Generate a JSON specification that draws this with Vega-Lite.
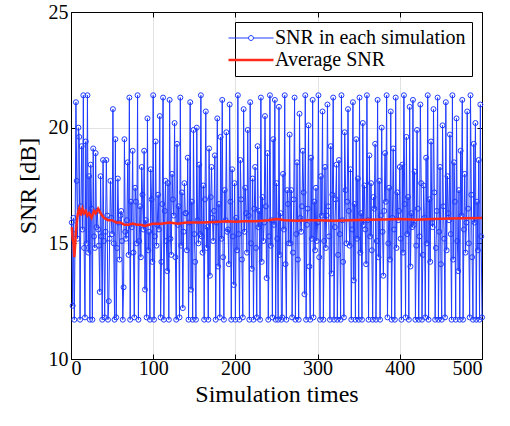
{
  "$schema": "https://vega.github.io/schema/vega-lite/v6.json",
  "autosize": {"type": "none"},
  "padding": {"left": 71, "top": 12, "right": 28, "bottom": 67},
  "width": 411,
  "height": 347,
  "background": "white",
  "config": {
    "view": {"stroke": "black", "strokeWidth": 1},
    "font": "Times New Roman"
  },
  "resolve": {"axis": {"x": "independent", "y": "independent"}},
  "datasets": {
    "snr": [
      {"i":1,"v":15.9},{"i":2,"v":12.3},{"i":3,"v":16.1},{"i":4,"v":11.7},{"i":5,"v":15.4},{"i":6,"v":21.1},{"i":7,"v":17.7},{"i":8,"v":15.2},{"i":9,"v":20.0},{"i":10,"v":19.6},{"i":11,"v":11.7},{"i":12,"v":16.6},{"i":13,"v":19.2},{"i":14,"v":15.6},{"i":15,"v":21.4},{"i":16,"v":14.8},{"i":17,"v":11.8},{"i":18,"v":19.4},{"i":19,"v":15.0},{"i":20,"v":21.4},{"i":21,"v":14.6},{"i":22,"v":17.9},{"i":23,"v":11.7},{"i":24,"v":18.4},{"i":25,"v":16.5},
      {"i":26,"v":11.7},{"i":27,"v":19.1},{"i":28,"v":15.3},{"i":29,"v":14.8},{"i":30,"v":18.9},{"i":31,"v":15.7},{"i":32,"v":16.4},{"i":33,"v":15.6},{"i":34,"v":14.9},{"i":35,"v":12.9},{"i":36,"v":17.9},{"i":37,"v":15.3},{"i":38,"v":11.7},{"i":39,"v":18.6},{"i":40,"v":15.1},{"i":41,"v":11.8},{"i":42,"v":15.5},{"i":43,"v":18.6},{"i":44,"v":16.2},{"i":45,"v":11.7},{"i":46,"v":12.5},{"i":47,"v":15.2},{"i":48,"v":17.7},{"i":49,"v":16.1},{"i":50,"v":15.4},
      {"i":51,"v":20.8},{"i":52,"v":15.0},{"i":53,"v":11.7},{"i":54,"v":19.5},{"i":55,"v":11.8},{"i":56,"v":14.8},{"i":57,"v":17.8},{"i":58,"v":15.9},{"i":59,"v":14.3},{"i":60,"v":16.2},{"i":61,"v":16.4},{"i":62,"v":15.1},{"i":63,"v":11.7},{"i":64,"v":13.1},{"i":65,"v":19.5},{"i":66,"v":15.5},{"i":67,"v":15.2},{"i":68,"v":16.0},{"i":69,"v":18.5},{"i":70,"v":14.5},{"i":71,"v":21.3},{"i":72,"v":11.7},{"i":73,"v":16.8},{"i":74,"v":15.7},{"i":75,"v":19.0},
      {"i":76,"v":14.6},{"i":77,"v":11.8},{"i":78,"v":17.4},{"i":79,"v":16.8},{"i":80,"v":15.0},{"i":81,"v":21.4},{"i":82,"v":11.7},{"i":83,"v":15.1},{"i":84,"v":16.6},{"i":85,"v":14.4},{"i":86,"v":18.3},{"i":87,"v":17.1},{"i":88,"v":15.6},{"i":89,"v":19.0},{"i":90,"v":13.0},{"i":91,"v":16.0},{"i":92,"v":11.8},{"i":93,"v":20.4},{"i":94,"v":14.7},{"i":95,"v":15.5},{"i":96,"v":11.7},{"i":97,"v":18.2},{"i":98,"v":16.9},{"i":99,"v":14.2},{"i":100,"v":21.4},
      {"i":101,"v":11.7},{"i":102,"v":15.3},{"i":103,"v":19.4},{"i":104,"v":14.9},{"i":105,"v":15.8},{"i":106,"v":17.1},{"i":107,"v":15.6},{"i":108,"v":20.5},{"i":109,"v":11.8},{"i":110,"v":14.2},{"i":111,"v":16.7},{"i":112,"v":21.3},{"i":113,"v":11.7},{"i":114,"v":16.4},{"i":115,"v":17.7},{"i":116,"v":15.1},{"i":117,"v":13.8},{"i":118,"v":17.6},{"i":119,"v":11.7},{"i":120,"v":21.2},{"i":121,"v":15.2},{"i":122,"v":14.5},{"i":123,"v":18.0},{"i":124,"v":16.9},{"i":125,"v":16.2},
      {"i":126,"v":20.2},{"i":127,"v":14.4},{"i":128,"v":11.7},{"i":129,"v":19.3},{"i":130,"v":15.8},{"i":131,"v":16.6},{"i":132,"v":11.8},{"i":133,"v":21.3},{"i":134,"v":14.9},{"i":135,"v":17.2},{"i":136,"v":12.2},{"i":137,"v":15.5},{"i":138,"v":17.6},{"i":139,"v":16.3},{"i":140,"v":16.3},{"i":141,"v":14.7},{"i":142,"v":18.7},{"i":143,"v":11.7},{"i":144,"v":15.9},{"i":145,"v":21.1},{"i":146,"v":13.0},{"i":147,"v":16.8},{"i":148,"v":11.7},{"i":149,"v":19.9},{"i":150,"v":15.4},
      {"i":151,"v":14.2},{"i":152,"v":11.7},{"i":153,"v":20.0},{"i":154,"v":16.0},{"i":155,"v":15.0},{"i":156,"v":18.4},{"i":157,"v":15.4},{"i":158,"v":21.4},{"i":159,"v":15.3},{"i":160,"v":14.6},{"i":161,"v":17.5},{"i":162,"v":11.7},{"i":163,"v":16.9},{"i":164,"v":20.7},{"i":165,"v":14.8},{"i":166,"v":15.7},{"i":167,"v":11.7},{"i":168,"v":19.1},{"i":169,"v":13.6},{"i":170,"v":17.0},{"i":171,"v":18.3},{"i":172,"v":16.1},{"i":173,"v":15.1},{"i":174,"v":16.4},{"i":175,"v":18.8},
      {"i":176,"v":11.7},{"i":177,"v":15.9},{"i":178,"v":20.4},{"i":179,"v":14.0},{"i":180,"v":16.7},{"i":181,"v":11.8},{"i":182,"v":19.6},{"i":183,"v":15.2},{"i":184,"v":21.2},{"i":185,"v":14.4},{"i":186,"v":11.7},{"i":187,"v":17.3},{"i":188,"v":16.0},{"i":189,"v":19.8},{"i":190,"v":15.5},{"i":191,"v":15.6},{"i":192,"v":14.1},{"i":193,"v":21.0},{"i":194,"v":16.8},{"i":195,"v":11.7},{"i":196,"v":18.2},{"i":197,"v":15.3},{"i":198,"v":13.2},{"i":199,"v":17.6},{"i":200,"v":11.7},
      {"i":201,"v":16.1},{"i":202,"v":14.7},{"i":203,"v":21.4},{"i":204,"v":15.4},{"i":205,"v":11.7},{"i":206,"v":18.6},{"i":207,"v":16.9},{"i":208,"v":14.3},{"i":209,"v":11.8},{"i":210,"v":20.8},{"i":211,"v":15.5},{"i":212,"v":17.4},{"i":213,"v":16.3},{"i":214,"v":14.6},{"i":215,"v":19.9},{"i":216,"v":16.2},{"i":217,"v":11.7},{"i":218,"v":21.1},{"i":219,"v":15.0},{"i":220,"v":13.9},{"i":221,"v":17.8},{"i":222,"v":11.7},{"i":223,"v":16.5},{"i":224,"v":18.3},{"i":225,"v":14.8},
      {"i":226,"v":11.8},{"i":227,"v":19.2},{"i":228,"v":15.7},{"i":229,"v":16.4},{"i":230,"v":11.7},{"i":231,"v":21.3},{"i":232,"v":14.2},{"i":233,"v":17.0},{"i":234,"v":15.1},{"i":235,"v":15.9},{"i":236,"v":20.5},{"i":237,"v":16.6},{"i":238,"v":13.5},{"i":239,"v":18.9},{"i":240,"v":11.7},{"i":241,"v":15.3},{"i":242,"v":21.4},{"i":243,"v":14.9},{"i":244,"v":16.0},{"i":245,"v":11.8},{"i":246,"v":19.5},{"i":247,"v":15.8},{"i":248,"v":21.2},{"i":249,"v":11.7},{"i":250,"v":17.6},
      {"i":251,"v":15.2},{"i":252,"v":11.7},{"i":253,"v":20.9},{"i":254,"v":14.5},{"i":255,"v":16.3},{"i":256,"v":11.7},{"i":257,"v":11.8},{"i":258,"v":18.0},{"i":259,"v":15.6},{"i":260,"v":21.4},{"i":261,"v":14.1},{"i":262,"v":11.7},{"i":263,"v":17.3},{"i":264,"v":16.7},{"i":265,"v":15.0},{"i":266,"v":19.7},{"i":267,"v":15.0},{"i":268,"v":17.3},{"i":269,"v":11.8},{"i":270,"v":14.6},{"i":271,"v":16.9},{"i":272,"v":21.3},{"i":273,"v":11.7},{"i":274,"v":15.4},{"i":275,"v":18.5},
      {"i":276,"v":14.3},{"i":277,"v":11.7},{"i":278,"v":20.6},{"i":279,"v":16.1},{"i":280,"v":15.5},{"i":281,"v":16.6},{"i":282,"v":19.0},{"i":283,"v":17.2},{"i":284,"v":12.8},{"i":285,"v":21.4},{"i":286,"v":11.7},{"i":287,"v":15.8},{"i":288,"v":16.5},{"i":289,"v":20.1},{"i":290,"v":14.0},{"i":291,"v":11.7},{"i":292,"v":18.7},{"i":293,"v":15.2},{"i":294,"v":21.2},{"i":295,"v":11.8},{"i":296,"v":16.8},{"i":297,"v":14.7},{"i":298,"v":17.4},{"i":299,"v":15.1},{"i":300,"v":15.9},
      {"i":301,"v":21.4},{"i":302,"v":14.4},{"i":303,"v":11.7},{"i":304,"v":17.9},{"i":305,"v":16.2},{"i":306,"v":20.7},{"i":307,"v":11.7},{"i":308,"v":15.1},{"i":309,"v":18.3},{"i":310,"v":14.8},{"i":311,"v":16.2},{"i":312,"v":21.0},{"i":313,"v":16.6},{"i":314,"v":15.3},{"i":315,"v":11.7},{"i":316,"v":19.2},{"i":317,"v":13.7},{"i":318,"v":17.1},{"i":319,"v":21.3},{"i":320,"v":11.7},{"i":321,"v":15.7},{"i":322,"v":16.9},{"i":323,"v":18.4},{"i":324,"v":11.7},{"i":325,"v":14.5},
      {"i":326,"v":18.6},{"i":327,"v":15.4},{"i":328,"v":11.7},{"i":329,"v":21.4},{"i":330,"v":16.0},{"i":331,"v":14.2},{"i":332,"v":11.8},{"i":333,"v":19.8},{"i":334,"v":17.3},{"i":335,"v":15.0},{"i":336,"v":16.8},{"i":337,"v":20.8},{"i":338,"v":16.4},{"i":339,"v":14.9},{"i":340,"v":18.2},{"i":341,"v":11.7},{"i":342,"v":15.6},{"i":343,"v":21.1},{"i":344,"v":13.4},{"i":345,"v":16.7},{"i":346,"v":11.7},{"i":347,"v":19.5},{"i":348,"v":15.2},{"i":349,"v":17.8},{"i":350,"v":11.7},
      {"i":351,"v":21.3},{"i":352,"v":14.6},{"i":353,"v":16.3},{"i":354,"v":11.7},{"i":355,"v":20.2},{"i":356,"v":15.8},{"i":357,"v":17.5},{"i":358,"v":15.6},{"i":359,"v":14.1},{"i":360,"v":21.4},{"i":361,"v":16.0},{"i":362,"v":11.7},{"i":363,"v":18.8},{"i":364,"v":15.3},{"i":365,"v":17.6},{"i":366,"v":14.7},{"i":367,"v":11.7},{"i":368,"v":17.0},{"i":369,"v":16.5},{"i":370,"v":19.3},{"i":371,"v":11.7},{"i":372,"v":15.1},{"i":373,"v":21.2},{"i":374,"v":14.4},{"i":375,"v":17.7},
      {"i":376,"v":11.7},{"i":377,"v":16.2},{"i":378,"v":20.0},{"i":379,"v":15.5},{"i":380,"v":13.6},{"i":381,"v":16.4},{"i":382,"v":18.9},{"i":383,"v":16.8},{"i":384,"v":21.4},{"i":385,"v":11.8},{"i":386,"v":15.0},{"i":387,"v":17.4},{"i":388,"v":14.3},{"i":389,"v":20.7},{"i":390,"v":11.7},{"i":391,"v":16.1},{"i":392,"v":19.1},{"i":393,"v":15.6},{"i":394,"v":11.7},{"i":395,"v":21.3},{"i":396,"v":14.8},{"i":397,"v":17.2},{"i":398,"v":16.0},{"i":399,"v":16.4},{"i":400,"v":18.3},
      {"i":401,"v":15.2},{"i":402,"v":11.7},{"i":403,"v":18.4},{"i":404,"v":14.6},{"i":405,"v":21.4},{"i":406,"v":16.7},{"i":407,"v":11.8},{"i":408,"v":19.6},{"i":409,"v":15.4},{"i":410,"v":17.0},{"i":411,"v":11.7},{"i":412,"v":20.9},{"i":413,"v":14.0},{"i":414,"v":16.3},{"i":415,"v":15.7},{"i":416,"v":21.2},{"i":417,"v":15.8},{"i":418,"v":18.1},{"i":419,"v":11.7},{"i":420,"v":14.9},{"i":421,"v":19.9},{"i":422,"v":16.5},{"i":423,"v":11.7},{"i":424,"v":15.3},{"i":425,"v":21.0},
      {"i":426,"v":17.6},{"i":427,"v":11.7},{"i":428,"v":14.5},{"i":429,"v":17.5},{"i":430,"v":16.1},{"i":431,"v":11.8},{"i":432,"v":18.7},{"i":433,"v":15.0},{"i":434,"v":21.4},{"i":435,"v":11.7},{"i":436,"v":16.9},{"i":437,"v":14.2},{"i":438,"v":19.4},{"i":439,"v":15.9},{"i":440,"v":15.7},{"i":441,"v":20.8},{"i":442,"v":17.2},{"i":443,"v":11.7},{"i":444,"v":14.8},{"i":445,"v":16.4},{"i":446,"v":21.3},{"i":447,"v":11.7},{"i":448,"v":15.5},{"i":449,"v":18.3},{"i":450,"v":14.1},
      {"i":451,"v":11.7},{"i":452,"v":20.1},{"i":453,"v":16.6},{"i":454,"v":15.2},{"i":455,"v":11.8},{"i":456,"v":21.1},{"i":457,"v":14.7},{"i":458,"v":17.9},{"i":459,"v":16.3},{"i":460,"v":16.0},{"i":461,"v":19.7},{"i":462,"v":15.4},{"i":463,"v":11.7},{"i":464,"v":21.4},{"i":465,"v":14.3},{"i":466,"v":18.5},{"i":467,"v":16.8},{"i":468,"v":11.7},{"i":469,"v":20.4},{"i":470,"v":15.1},{"i":471,"v":13.8},{"i":472,"v":17.3},{"i":473,"v":11.7},{"i":474,"v":19.0},{"i":475,"v":16.2},
      {"i":476,"v":21.2},{"i":477,"v":11.7},{"i":478,"v":15.6},{"i":479,"v":18.0},{"i":480,"v":14.6},{"i":481,"v":15.9},{"i":482,"v":20.7},{"i":483,"v":16.5},{"i":484,"v":15.0},{"i":485,"v":11.8},{"i":486,"v":21.4},{"i":487,"v":17.1},{"i":488,"v":14.4},{"i":489,"v":11.7},{"i":490,"v":19.3},{"i":491,"v":15.9},{"i":492,"v":20.2},{"i":493,"v":11.7},{"i":494,"v":16.8},{"i":495,"v":14.7},{"i":496,"v":18.6},{"i":497,"v":11.7},{"i":498,"v":21.0},{"i":499,"v":15.3},{"i":500,"v":11.8}
    ],
    "avg": [
      {"i":1,"a":15.7},{"i":2,"a":15.2},{"i":3,"a":15.0},{"i":4,"a":14.4},{"i":5,"a":14.9},{"i":6,"a":15.5},{"i":7,"a":15.9},{"i":8,"a":16.2},{"i":9,"a":16.4},{"i":10,"a":16.5},{"i":12,"a":16.2},{"i":14,"a":16.5},{"i":16,"a":16.3},{"i":18,"a":16.4},{"i":20,"a":16.2},{"i":22,"a":16.3},{"i":25,"a":16.1},{"i":28,"a":16.4},{"i":30,"a":16.3},{"i":33,"a":16.5},{"i":36,"a":16.3},{"i":40,"a":16.1},{"i":45,"a":16.0},{"i":50,"a":16.0},{"i":55,"a":15.9},{"i":60,"a":15.9},{"i":65,"a":15.8},{"i":70,"a":15.8},{"i":75,"a":15.85},{"i":80,"a":15.8},{"i":85,"a":15.8},{"i":90,"a":15.75},{"i":95,"a":15.8},{"i":100,"a":15.85},{"i":110,"a":15.85},{"i":120,"a":15.9},{"i":130,"a":15.85},{"i":140,"a":15.9},{"i":150,"a":15.9},{"i":160,"a":15.9},{"i":175,"a":15.92},{"i":190,"a":15.95},{"i":200,"a":15.93},{"i":210,"a":15.95},{"i":225,"a":15.95},{"i":240,"a":16.0},{"i":250,"a":16.05},{"i":260,"a":16.0},{"i":275,"a":15.98},{"i":290,"a":16.0},{"i":300,"a":16.0},{"i":320,"a":15.98},{"i":340,"a":16.0},{"i":360,"a":16.02},{"i":380,"a":16.03},{"i":400,"a":16.05},{"i":420,"a":16.02},{"i":440,"a":16.05},{"i":460,"a":16.07},{"i":480,"a":16.08},{"i":500,"a":16.1}
    ]
  },
  "layer": [
    {
      "data": {"name": "snr"},
      "mark": {"type": "line", "strokeWidth": 1, "point": {"filled": false, "size": 25, "strokeWidth": 1}},
      "encoding": {
        "x": {"field": "i", "type": "quantitative", "scale": {"domain": [0, 500], "nice": false},
          "axis": {"orient": "bottom", "values": [0, 100, 200, 300, 400, 500], "title": "Simulation times", "grid": true, "labelPadding": 4, "titlePadding": 4,
            "labelFont": "Times New Roman", "labelFontSize": 20, "labelColor": "black",
            "titleFont": "Times New Roman", "titleFontSize": 24, "titleFontWeight": "normal", "titleColor": "black",
            "domainColor": "black", "tickColor": "black", "tickSize": -5,
            "gridColor": "#e2e2e2", "gridWidth": 1, "gridOpacity": 1}},
        "y": {"field": "v", "type": "quantitative", "scale": {"domain": [10, 25], "nice": false, "zero": false},
          "axis": {"orient": "left", "values": [10, 15, 20, 25], "title": "SNR [dB]", "grid": true, "labelPadding": 8, "titlePadding": 8,
            "labelFont": "Times New Roman", "labelFontSize": 20, "labelColor": "black",
            "titleFont": "Times New Roman", "titleFontSize": 24, "titleFontWeight": "normal", "titleColor": "black",
            "domainColor": "black", "tickColor": "black", "tickSize": -5,
            "gridColor": "#e2e2e2", "gridWidth": 1, "gridOpacity": 1}},
        "color": {"datum": "SNR in each simulation", "type": "nominal",
          "scale": {"domain": ["SNR in each simulation", "Average SNR"], "range": ["#1f3cff", "#ff2a1a"]},
          "legend": {
            "title": null, "orient": "top-right", "offset": 10, "fillColor": "white", "strokeColor": "black",
            "padding": 6, "labelFont": "Times New Roman", "labelFontSize": 20, "labelColor": "black", "labelLimit": 400,
            "symbolSize": 2025, "symbolStrokeWidth": 1.5, "rowPadding": 2, "labelOffset": 14,
            "encode": {"symbols": {"update": {
              "shape": {"signal": "datum.label === 'Average SNR' ? 'stroke' : 'M-1,0L-0.11,0M0.11,0L1,0M-0.11,0A0.11,0.11 0 1,1 0.11,0A0.11,0.11 0 1,1 -0.11,0'"},
              "strokeWidth": {"signal": "datum.label === 'Average SNR' ? 2.5 : 1"}
            }}}
          }}
      }
    },
    {
      "data": {"name": "avg"},
      "mark": {"type": "line", "strokeWidth": 2.5},
      "encoding": {
        "x": {"field": "i", "type": "quantitative",
          "axis": {"orient": "top", "values": [0, 100, 200, 300, 400, 500], "labels": false, "title": null, "grid": false,
            "domainColor": "black", "tickColor": "black", "tickSize": -5}},
        "y": {"field": "a", "type": "quantitative",
          "axis": {"orient": "right", "values": [10, 15, 20, 25], "labels": false, "title": null, "grid": false,
            "domainColor": "black", "tickColor": "black", "tickSize": -5}},
        "color": {"datum": "Average SNR", "type": "nominal"}
      }
    }
  ]
}
